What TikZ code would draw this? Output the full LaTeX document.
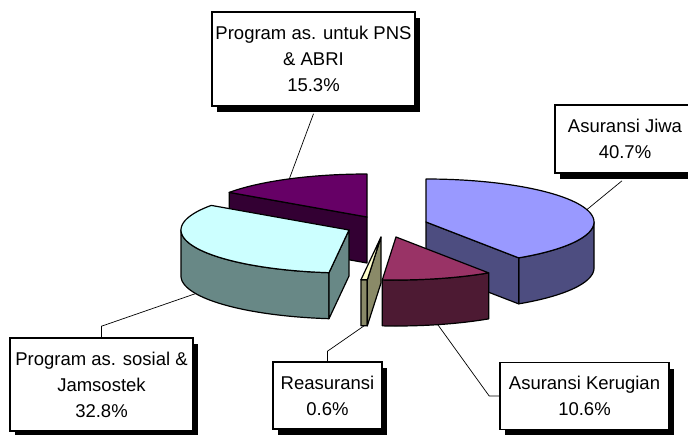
\documentclass[tikz,border=0pt]{standalone}
\usepackage{fontspec}
\setmainfont{Liberation Sans}
\usetikzlibrary{shadows}
\definecolor{jiwaTop}{RGB}{153,153,255}
\definecolor{jiwaSide}{RGB}{77,77,128}
\definecolor{pnsTop}{RGB}{102,0,102}
\definecolor{pnsSide}{RGB}{51,0,51}
\definecolor{jamTop}{RGB}{204,255,255}
\definecolor{jamSide}{RGB}{104,136,134}
\definecolor{kerTop}{RGB}{153,51,102}
\definecolor{kerSide}{RGB}{77,26,51}
\definecolor{reaTop}{RGB}{255,255,204}
\definecolor{reaSide}{RGB}{138,138,104}
\def\ra{168}\def\rb{43}\def\hh{46}
% cut face: Px Py theta colour
\newcommand{\pieCutFace}[4]{%
  \filldraw[pieedge, fill=#4] ({#1},{#2}) -- ({#1+\ra*sin(#3)},{#2-\rb*cos(#3)})
    -- ({#1+\ra*sin(#3)},{#2-\rb*cos(#3)+\hh}) -- ({#1},{#2+\hh}) -- cycle;}
% outer rim side: Px Py t1 t2 colour
\newcommand{\pieRimSide}[5]{%
  \filldraw[pieedge, fill=#5] plot[domain=#3:#4, samples=40] ({#1+\ra*sin(\x)},{#2-\rb*cos(\x)})
    -- plot[domain=#4:#3, samples=40] ({#1+\ra*sin(\x)},{#2-\rb*cos(\x)+\hh}) -- cycle;}
% top face: Px Py t1 t2 colour
\newcommand{\pieTopFace}[5]{%
  \filldraw[pieedge, fill=#5] ({#1},{#2}) -- plot[domain=#3:#4, samples=60] ({#1+\ra*sin(\x)},{#2-\rb*cos(\x)}) -- cycle;}
\begin{document}
\begin{tikzpicture}[x=1pt,y=-1pt,
  pieedge/.style={draw=black, line width=1.2pt, line join=round},
  lbl/.style={draw=black, line width=1.6pt, fill=white, align=center, inner sep=0pt,
    font=\fontsize{18.5}{26}\selectfont,
    drop shadow={shadow xshift=5pt, shadow yshift=-6pt, fill=black, opacity=1}},
  conn/.style={draw=black, line width=0.7pt}]
\useasboundingbox (0,0) rectangle (688,434);
\clip (0,0) rectangle (688,434);

% --- pie slices (back to front) ---
% Program as. untuk PNS & ABRI
\pieCutFace{367}{217}{304.92}{pnsSide}
\pieTopFace{367}{217}{304.92}{360}{pnsTop}
% Asuransi Jiwa
\pieRimSide{426}{222}{90}{146.52}{jiwaSide}
\pieCutFace{426}{222}{146.52}{jiwaSide}
\pieTopFace{426}{222}{0}{146.52}{jiwaTop}
% Program as. sosial & Jamsostek
\pieRimSide{349}{230}{186.84}{270}{jamSide}
\pieCutFace{349}{230}{186.84}{jamSide}
\pieTopFace{349}{230}{186.84}{304.92}{jamTop}
% Asuransi Kerugian
\pieRimSide{396}{237}{146.52}{184.68}{kerSide}
\pieTopFace{396}{237}{146.52}{184.68}{kerTop}
% Reasuransi
\pieRimSide{381}{237}{184.68}{186.84}{reaSide}
\pieCutFace{381}{237}{184.68}{reaSide}
\pieTopFace{381}{237}{184.68}{186.84}{reaTop}

% --- anchor points of the leader lines ---
\coordinate (pnsA) at ({367+\ra*sin(332.46)},{217-\rb*cos(332.46)});
\coordinate (jiwaA) at ({426+\ra*sin(73.26)},{222-\rb*cos(73.26)});
\coordinate (jamA) at ({349+\ra*sin(245.88)},{230-\rb*cos(245.88)+\hh});
\coordinate (reaA) at ({381+\ra*sin(185.76)},{237-\rb*cos(185.76)+\hh});
\coordinate (kerA) at ({396+\ra*sin(165.6)},{237-\rb*cos(165.6)+\hh});

% --- label boxes ---
\node[lbl, minimum width=203pt, minimum height=94pt] (pns) at (313.5,59)
  {Program as. untuk PNS\\ \& ABRI\\ 15.3\%};
\node[lbl, minimum width=140pt, minimum height=68pt] (jiwa) at (625,139)
  {Asuransi Jiwa\\ 40.7\%};
\node[lbl, minimum width=183pt, minimum height=93pt] (jam) at (101.5,384.5)
  {Program as. sosial \&\\ Jamsostek\\ 32.8\%};
\node[lbl, minimum width=109pt, minimum height=67pt] (rea) at (327.5,395.5)
  {Reasuransi\\ 0.6\%};
\node[lbl, minimum width=169pt, minimum height=67pt] (ker) at (584.5,396)
  {Asuransi Kerugian\\ 10.6\%};

% --- leader lines ---
\draw[conn] (pns.south) ++(0,7) -- (pnsA);
\draw[conn] (jiwa.south) ++(-3,7) -- (jiwaA);
\draw[conn] (jam.north) -- ++(0,-11) -- (jamA);
\draw[conn] (rea.north) -- ++(0,-10) -- (reaA);
\draw[conn] (ker.west) -- ++(-10,0) -- (kerA);
\end{tikzpicture}
\end{document}
